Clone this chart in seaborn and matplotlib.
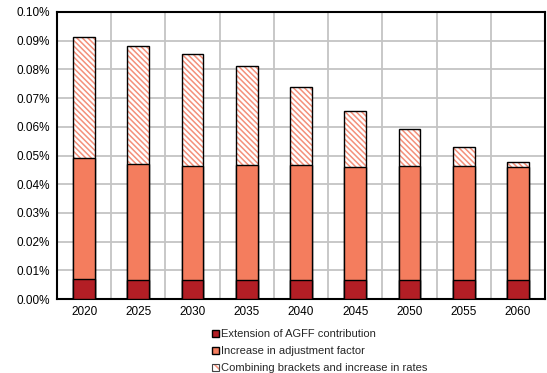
import matplotlib
matplotlib.use("Agg")
import matplotlib.pyplot as plt
import seaborn as sns
import pandas as pd
import numpy as np
from matplotlib.patches import Patch
from matplotlib.ticker import FuncFormatter, MultipleLocator

years = ["2020", "2025", "2030", "2035", "2040", "2045", "2050", "2055", "2060"]
extension_agff = [0.0070, 0.0067, 0.0066, 0.0066, 0.0067, 0.0066, 0.0066, 0.0066, 0.0066]
increase_adjustment = [0.0420, 0.0404, 0.0396, 0.0401, 0.0400, 0.0395, 0.0398, 0.0398, 0.0394]
combining_brackets = [0.0423, 0.0412, 0.0392, 0.0346, 0.0270, 0.0194, 0.0130, 0.0066, 0.0017]
labels = ["Extension of AGFF contribution", "Increase in adjustment factor",
          "Combining brackets and increase in rates"]

sns.set_style("white")
plt.rcParams["font.family"] = ["Liberation Sans", "DejaVu Sans"]
plt.rcParams["hatch.linewidth"] = 1.1

DARK = "#B31E25"
SALMON = "#F47D5E"
HATCH_COLOR = "#F4907A"

df = pd.DataFrame({"year": years, "ext": extension_agff,
                   "adj": increase_adjustment, "comb": combining_brackets})
df["mid"] = df["ext"] + df["adj"]
df["top"] = df["mid"] + df["comb"]

fig = plt.figure(figsize=(5.47, 3.73), dpi=100)
ax = fig.add_axes([57/547, 74/373, 488/547, 287/373])

w = 0.4
HATCH = "\\\\\\\\\\\\"
# hatched top layer
sns.barplot(data=df, x="year", y="top", color="white", width=w, ax=ax,
            hatch=HATCH, edgecolor=HATCH_COLOR, linewidth=0, saturation=1, zorder=2)
sns.barplot(data=df, x="year", y="top", color="none", width=w, ax=ax,
            edgecolor="black", linewidth=1.0, saturation=1, fill=False, zorder=3)
sns.barplot(data=df, x="year", y="mid", color=SALMON, width=w, ax=ax,
            edgecolor="black", linewidth=1.0, saturation=1, zorder=4)
sns.barplot(data=df, x="year", y="ext", color=DARK, width=w, ax=ax,
            edgecolor="black", linewidth=1.0, saturation=1, zorder=5)

ax.set_ylim(0, 0.10)
ax.set_xlim(-0.5, len(years) - 0.5)
ax.yaxis.set_major_locator(MultipleLocator(0.01))
ax.yaxis.set_major_formatter(FuncFormatter(lambda v, p: f"{v:.2f}%"))
ax.set_xticks(np.arange(len(years)) + 0.5, minor=True)
ax.grid(axis="y", which="major", color="#C4C4C4", linewidth=1.3, zorder=0)
ax.grid(axis="x", which="minor", color="#C4C4C4", linewidth=1.3, zorder=0)
ax.set_axisbelow(True)
ax.tick_params(axis="both", which="both", length=0, labelsize=8.5, colors="black", pad=5)
ax.set_xlabel("")
ax.set_ylabel("")
for s in ax.spines.values():
    s.set_visible(True)
    s.set_color("black")
    s.set_linewidth(1.5)

handles = [
    Patch(facecolor=DARK, edgecolor="black", linewidth=1.0),
    Patch(facecolor=SALMON, edgecolor="black", linewidth=1.0),
    (Patch(facecolor="white", edgecolor=HATCH_COLOR, hatch="\\\\\\\\", linewidth=0.0),
     Patch(facecolor="none", edgecolor="#444444", linewidth=0.8)),
]
leg = fig.legend(handles, labels, loc="upper left", bbox_to_anchor=(212/547, 1 - 329/373),
                 frameon=False, fontsize=8, handlelength=0.6, handleheight=0.6,
                 handletextpad=0.25, labelspacing=0.65, borderpad=0, borderaxespad=0)

fig.savefig("out.png", dpi=100)
